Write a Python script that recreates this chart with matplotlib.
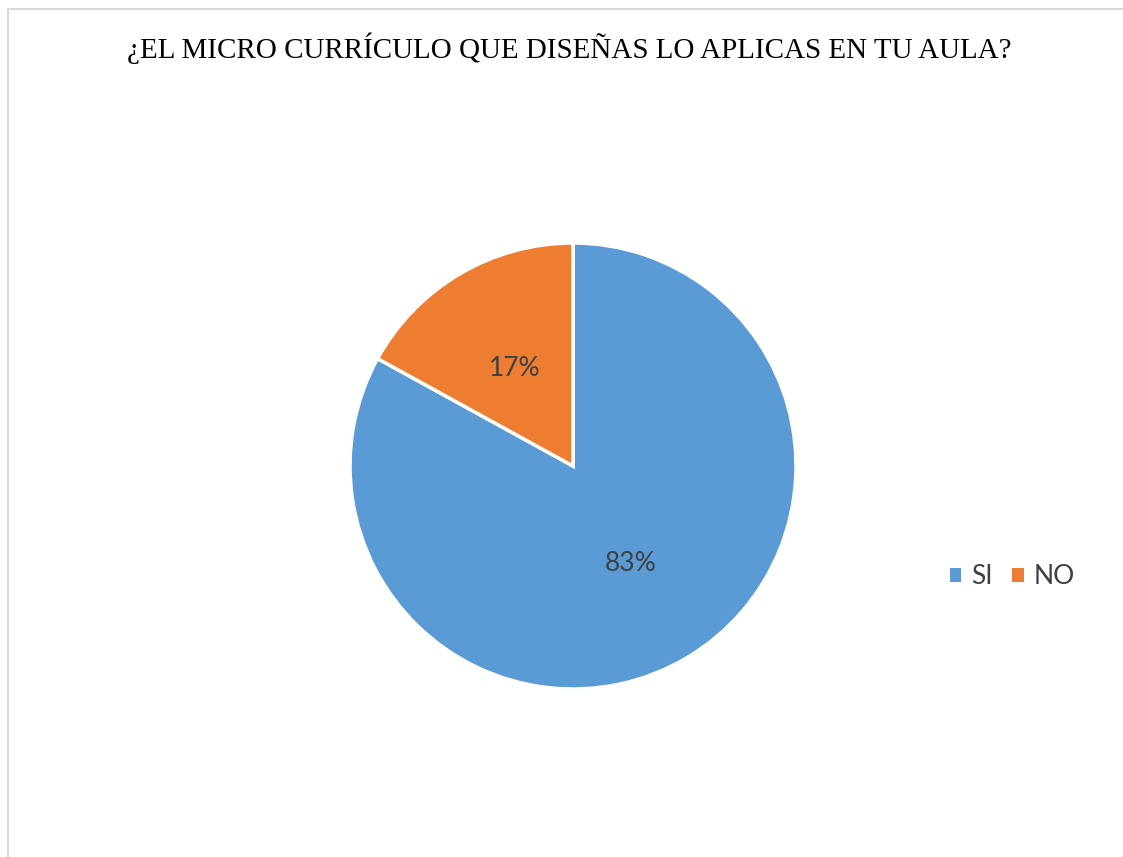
import matplotlib
matplotlib.use("Agg")
import matplotlib.pyplot as plt
from matplotlib.lines import Line2D
from matplotlib.patches import Patch

title = "¿EL MICRO CURRÍCULO QUE DISEÑAS LO APLICAS EN TU AULA?"
categories = ["SI", "NO"]
values = [83, 17]
colors = ["#5B9BD5", "#ED7D31"]

W, H = 1123, 857
fig = plt.figure(figsize=(W / 100, H / 100), dpi=100)
fig.patch.set_facecolor("white")

# chart border (left and top visible)
fig.add_artist(Line2D([8 / W, 8 / W, 1.0], [0.0, 1 - 9 / H, 1 - 9 / H],
                      transform=fig.transFigure, color="#d9d9d9", lw=1.5))

fig.text(569 / W, 1 - 48 / H, title, ha="center", va="center",
         fontsize=20.9, family="Liberation Serif", color="#000000")

cx, cy, r = 573, 466, 223
ax = fig.add_axes([(cx - r) / W, (H - cy - r) / H, 2 * r / W, 2 * r / H])
wedges, texts, autotexts = ax.pie(
    values, colors=colors, startangle=90, counterclock=False,
    autopct=lambda p: f"{p:.0f}%", pctdistance=0.51,
    wedgeprops=dict(edgecolor="white", linewidth=2.5),
    textprops=dict(fontsize=19, color="#404040", family="Lato"))
ax.set_xlim(-1, 1)
ax.set_ylim(-1, 1)
ax.set_aspect("equal")
ax.axis("off")

handles = [Patch(facecolor=c, edgecolor="none") for c in colors]
fig.legend(handles, categories, loc="center",
           bbox_to_anchor=(1012 / W, 1 - 577 / H), ncol=2, frameon=False,
           handlelength=0.45, handleheight=0.45, handletextpad=0.35,
           columnspacing=0.75, prop=dict(family="Lato", size=19),
           labelcolor="#404040")

fig.savefig("out.png", dpi=100, facecolor="white")
